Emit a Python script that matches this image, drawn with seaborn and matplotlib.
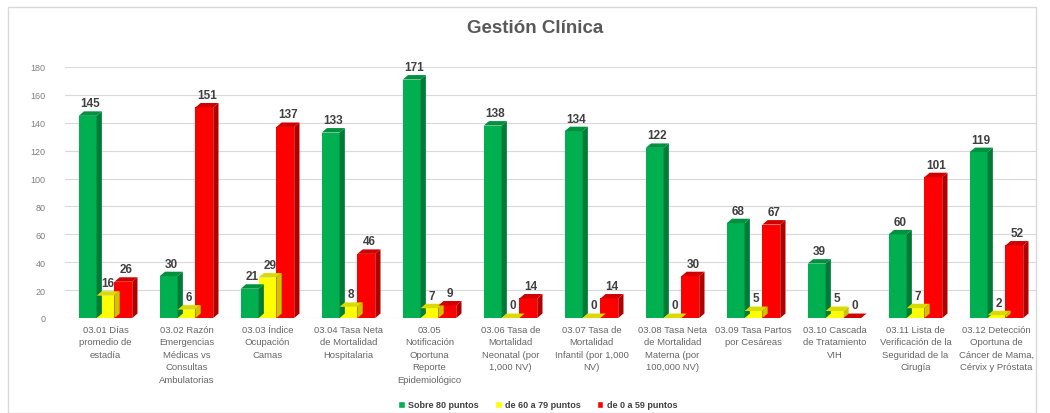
import matplotlib
matplotlib.use("Agg")
import matplotlib.pyplot as plt
import seaborn as sns
import pandas as pd
from matplotlib.patches import Polygon, Rectangle

categories = [
    "03.01 Días\npromedio de\nestadía",
    "03.02 Razón\nEmergencias\nMédicas vs\nConsultas\nAmbulatorias",
    "03.03 Índice\nOcupación\nCamas",
    "03.04 Tasa Neta\nde Mortalidad\nHospitalaria",
    "03.05\nNotificación\nOportuna\nReporte\nEpidemiológico",
    "03.06 Tasa de\nMortalidad\nNeonatal (por\n1,000 NV)",
    "03.07 Tasa de\nMortalidad\nInfantil (por 1,000\nNV)",
    "03.08 Tasa Neta\nde Mortalidad\nMaterna (por\n100,000 NV)",
    "03.09 Tasa Partos\npor Cesáreas",
    "03.10 Cascada\nde Tratamiento\nVIH",
    "03.11 Lista de\nVerificación de la\nSeguridad de la\nCirugía",
    "03.12 Detección\nOportuna de\nCáncer de Mama,\nCérvix y Próstata",
]
series_names = ["Sobre 80 puntos", "de 60 a 79 puntos", "de 0 a 59 puntos"]
sobre80 = [145, 30, 21, 133, 171, 138, 134, 122, 68, 39, 60, 119]
de60a79 = [16, 6, 29, 8, 7, 0, 0, 0, 5, 5, 7, 2]
de0a59 = [26, 151, 137, 46, 9, 14, 14, 30, 67, 0, 101, 52]
yticks = [0, 20, 40, 60, 80, 100, 120, 140, 160, 180]

colors = ["#00B050", "#FFFF00", "#FF0000"]
side_colors = ["#007A37", "#C8C800", "#B00000"]
top_colors = ["#00913F", "#DADA00", "#D00000"]

rows = []
for name, vals in zip(series_names, [sobre80, de60a79, de0a59]):
    for c, v in zip(categories, vals):
        rows.append({"cat": c, "serie": name, "valor": v})
df = pd.DataFrame(rows)

sns.set_theme(style="white")
font = ["Liberation Sans Narrow", "Liberation Sans", "DejaVu Sans"]
plt.rcParams["font.family"] = font

fig = plt.figure(figsize=(10.5, 4.14), dpi=100)
fig.patches.append(Rectangle((8 / 1050, 0), 1028 / 1050, 406 / 414, transform=fig.transFigure,
                             fill=False, edgecolor="#D9D9D9", linewidth=1.0, zorder=0))
ax = fig.add_axes([65 / 1050, 95 / 414, 972 / 1050, 251 / 414])

sns.barplot(data=df, x="cat", y="valor", hue="serie", hue_order=series_names,
            palette=colors, width=0.66, ax=ax, saturation=1, dodge=True,
            edgecolor="none", legend=False, errorbar=None)

ax.set_ylim(0, 180)
ax.set_xlim(-0.5, len(categories) - 0.5)
ax.set_yticks(yticks)
ax.set_yticklabels([str(t) for t in yticks], fontsize=6.5, color="#7F7F7F")
ax.tick_params(axis="y", length=0, pad=14)
ax.tick_params(axis="x", length=0, pad=5)
ax.set_xticks(range(len(categories)))
ax.set_xticklabels(categories, fontsize=6.8, color="#666666", linespacing=1.5, va="top")
ax.set_xlabel("")
ax.set_ylabel("")
for t in yticks:
    ax.axhline(t, color="#D9D9D9", linewidth=0.8, zorder=0)
for s in ax.spines.values():
    s.set_visible(False)

# 3D-like faces derived from bar geometry
dx = 0.065
dy = 3.2
for i, cont in enumerate(ax.containers):
    for bar in cont:
        x0 = bar.get_x()
        w = bar.get_width()
        h = bar.get_height()
        x1 = x0 + w
        side = Polygon([(x1, 0), (x1 + dx, dy), (x1 + dx, h + dy), (x1, h)], closed=True,
                       facecolor=side_colors[i], edgecolor="none", zorder=bar.get_zorder())
        top = Polygon([(x0, h), (x0 + dx, h + dy), (x1 + dx, h + dy), (x1, h)], closed=True,
                      facecolor=top_colors[i], edgecolor="none", zorder=bar.get_zorder())
        ax.add_patch(side)
        ax.add_patch(top)
        ax.text(x0 + w / 2 + dx / 2, h + dy + 1.5, f"{int(h)}", ha="center", va="bottom",
                fontsize=8.5, fontweight="bold", color="#404040")

fig.text(535 / 1050, 0.93, "Gestión Clínica", ha="center", va="center", fontsize=13.5,
         fontweight="bold", color="#595959")

handles = [Rectangle((0, 0), 1, 1, facecolor=c) for c in colors]
fig.legend(handles, series_names, loc="center", bbox_to_anchor=(538 / 1050, 1 - 406 / 414),
           ncol=3, frameon=False, prop={"size": 6.5, "weight": "bold", "family": font},
           handlelength=0.7, handleheight=0.7, columnspacing=1.8, handletextpad=0.4,
           labelcolor="#404040")

fig.savefig("out.png", dpi=100)
